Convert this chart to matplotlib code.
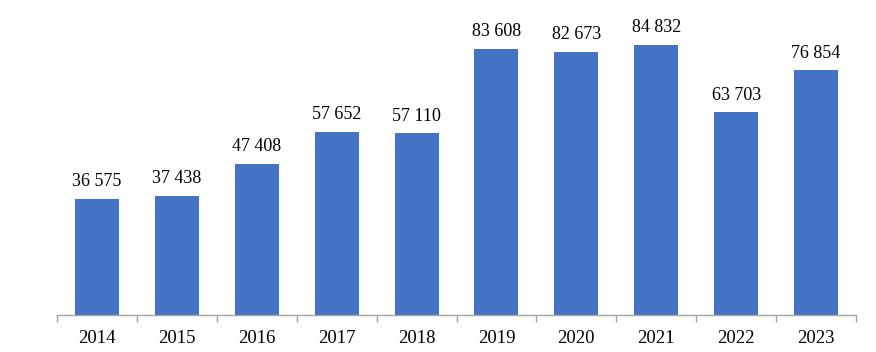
import numpy as np
import matplotlib.pyplot as plt

years = ['2014', '2015', '2016', '2017', '2018', '2019', '2020', '2021', '2022', '2023']
values = [36575, 37438, 47408, 57652, 57110, 83608, 82673, 84832, 63703, 76854]
labels = ['36 575', '37 438', '47 408', '57 652', '57 110', '83 608', '82 673', '84 832', '63 703', '76 854']

plt.rcParams['font.family'] = ['Liberation Serif', 'DejaVu Serif']

fig = plt.figure(figsize=(8.76, 3.52), dpi=100)
# baseline at y=315 px, 84832 reaches y=45 px
ymax = 90000
px_per_unit = 270.0 / 84832
top_px = 315 - ymax * px_per_unit
ax = fig.add_axes([57/876, 37/352, (856-57)/876, (315-top_px)/352])

x = np.arange(len(years))
ax.bar(x, values, width=0.55, color='#4472C4', zorder=2)
ax.set_xlim(-0.5, len(years) - 0.5)
ax.set_ylim(0, ymax)

for xi, v, lab in zip(x, values, labels):
    ax.text(xi, v + 5400, lab, ha='center', va='center', fontsize=13, clip_on=False)

for s in ['top', 'right', 'left']:
    ax.spines[s].set_visible(False)
ax.spines['bottom'].set_color('#a6a6a6')
ax.spines['bottom'].set_linewidth(1.0)
ax.set_yticks([])

ax.set_xticks(x)
ax.set_xticklabels(years, fontsize=13.5)
ax.tick_params(axis='x', which='major', length=0, pad=11)
ax.set_xticks(np.arange(-0.5, len(years)), minor=True)
ax.tick_params(axis='x', which='minor', length=5, color='#a6a6a6', width=1.0)

fig.savefig('out.png', dpi=100)
